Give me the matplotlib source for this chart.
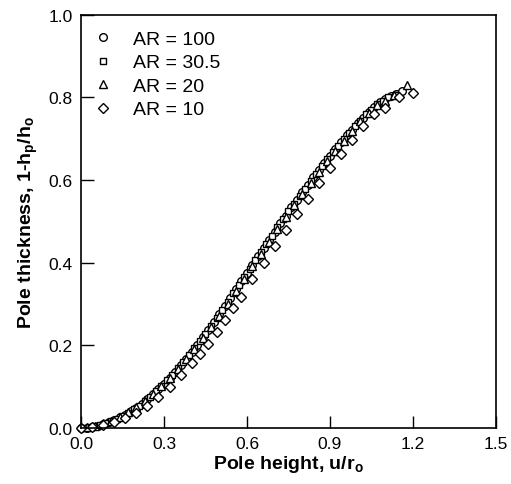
import matplotlib.pyplot as plt

# AR = 100 (circles)
circ_x = [0.00, 0.02, 0.04, 0.06, 0.08, 0.10, 0.12, 0.14, 0.16, 0.18, 0.20, 0.22, 0.24, 0.26,
          0.28, 0.30, 0.32, 0.34, 0.36, 0.38, 0.40, 0.42, 0.44, 0.46, 0.48, 0.50, 0.52, 0.54,
          0.56, 0.58, 0.60, 0.62, 0.64, 0.66, 0.68, 0.70, 0.72, 0.74, 0.76, 0.78, 0.80, 0.82,
          0.84, 0.86, 0.88, 0.90, 0.92, 0.94, 0.96, 0.98, 1.00, 1.02, 1.04, 1.06, 1.08, 1.10,
          1.12, 1.14, 1.16]
circ_y = [0.000, 0.001, 0.003, 0.006, 0.010, 0.015, 0.019, 0.026, 0.032, 0.041, 0.049, 0.058,
          0.071, 0.082, 0.095, 0.107, 0.122, 0.136, 0.152, 0.167, 0.185, 0.201, 0.220, 0.237,
          0.257, 0.275, 0.296, 0.315, 0.336, 0.355, 0.376, 0.395, 0.416, 0.435, 0.456, 0.475,
          0.496, 0.514, 0.534, 0.552, 0.571, 0.588, 0.607, 0.624, 0.642, 0.658, 0.676, 0.691,
          0.708, 0.722, 0.738, 0.751, 0.765, 0.776, 0.788, 0.796, 0.804, 0.809, 0.815]

# AR = 30.5 (squares)
sq_x = [0.01, 0.03, 0.05, 0.07, 0.09, 0.11, 0.13, 0.15, 0.17, 0.19, 0.21, 0.23, 0.25, 0.27,
        0.29, 0.31, 0.33, 0.35, 0.37, 0.39, 0.41, 0.43, 0.45, 0.47, 0.49, 0.51, 0.53, 0.55,
        0.57, 0.59, 0.61, 0.63, 0.65, 0.67, 0.69, 0.71, 0.73, 0.75, 0.77, 0.79, 0.81, 0.83,
        0.85, 0.87, 0.89, 0.91, 0.93, 0.95, 0.97, 0.99, 1.01, 1.03, 1.05, 1.07, 1.09, 1.11,
        1.14]
sq_y = [0.001, 0.002, 0.004, 0.008, 0.012, 0.018, 0.022, 0.030, 0.036, 0.046, 0.054, 0.066,
        0.076, 0.089, 0.101, 0.115, 0.129, 0.145, 0.159, 0.177, 0.193, 0.211, 0.228, 0.248,
        0.266, 0.286, 0.305, 0.326, 0.345, 0.366, 0.385, 0.406, 0.425, 0.446, 0.465, 0.486,
        0.505, 0.525, 0.543, 0.562, 0.579, 0.598, 0.615, 0.634, 0.650, 0.668, 0.683, 0.700,
        0.715, 0.731, 0.744, 0.759, 0.770, 0.783, 0.792, 0.801, 0.807]

# AR = 20 (triangles)
tri_x = [0.02, 0.05, 0.08, 0.11, 0.14, 0.17, 0.20, 0.23, 0.26, 0.29, 0.32, 0.35, 0.38, 0.41,
         0.44, 0.47, 0.50, 0.53, 0.56, 0.59, 0.62, 0.65, 0.68, 0.71, 0.74, 0.77, 0.80, 0.83,
         0.86, 0.89, 0.92, 0.95, 0.98, 1.01, 1.04, 1.07, 1.10, 1.13, 1.18]
tri_y = [0.002, 0.006, 0.011, 0.018, 0.027, 0.038, 0.051, 0.066, 0.083, 0.101, 0.121, 0.143,
         0.166, 0.191, 0.217, 0.244, 0.272, 0.301, 0.331, 0.361, 0.391, 0.421, 0.451, 0.481,
         0.511, 0.539, 0.566, 0.593, 0.620, 0.646, 0.671, 0.695, 0.719, 0.742, 0.763, 0.782,
         0.792, 0.805, 0.830]

# AR = 10 (diamonds)
dia_x = [0.00, 0.04, 0.08, 0.12, 0.16, 0.20, 0.24, 0.28, 0.32, 0.36, 0.40, 0.43, 0.46, 0.49,
         0.52, 0.55, 0.58, 0.62, 0.66, 0.70, 0.74, 0.78, 0.82, 0.86, 0.90, 0.94, 0.98, 1.02,
         1.06, 1.10, 1.15, 1.20]
dia_y = [0.000, 0.002, 0.007, 0.014, 0.024, 0.036, 0.052, 0.074, 0.100, 0.128, 0.158, 0.180,
         0.203, 0.232, 0.262, 0.290, 0.318, 0.360, 0.400, 0.440, 0.478, 0.517, 0.555, 0.592,
         0.630, 0.664, 0.697, 0.730, 0.760, 0.775, 0.800, 0.810]

labels = ['AR = 100', 'AR = 30.5', 'AR = 20', 'AR = 10']

plt.rcParams['font.family'] = ['Liberation Sans', 'DejaVu Sans']

fig = plt.figure(figsize=(5.11, 4.85), dpi=100)
ax = fig.add_axes([0.1585, 0.1155, 0.812, 0.852])

series = [(circ_x, circ_y, 'o', 5.5), (sq_x, sq_y, 's', 5.0),
          (tri_x, tri_y, '^', 5.5), (dia_x, dia_y, 'D', 5.0)]
for (x, y, m, s), lab in zip(series, labels):
    ax.plot(x, y, linestyle='none', marker=m, markersize=s, markerfacecolor='white',
            markeredgecolor='black', markeredgewidth=1.0, label=lab, clip_on=False)

ax.set_xlim(0, 1.5)
ax.set_ylim(0, 1.0)
ax.set_xticks([0.0, 0.3, 0.6, 0.9, 1.2, 1.5])
ax.set_yticks([0.0, 0.2, 0.4, 0.6, 0.8, 1.0])
ax.xaxis.set_major_formatter(plt.FormatStrFormatter('%.1f'))
ax.yaxis.set_major_formatter(plt.FormatStrFormatter('%.1f'))
ax.tick_params(direction='in', length=9, width=1, labelsize=12.5, pad=6)
for sp in ax.spines.values():
    sp.set_linewidth(1.2)

ax.set_xlabel('Pole height, u/r$_\\mathregular{o}$', fontsize=14, fontweight='bold', labelpad=1)
ax.set_ylabel('Pole thickness, 1-h$_\\mathregular{p}$/h$_\\mathregular{o}$', fontsize=14,
              fontweight='bold', labelpad=6)

ax.legend(loc='upper left', bbox_to_anchor=(0.0, 0.988), frameon=False, fontsize=14,
          handlelength=1.2, handletextpad=0.95, labelspacing=0.3, borderaxespad=0.15,
          borderpad=0.4)

plt.savefig('out.png', dpi=100)
